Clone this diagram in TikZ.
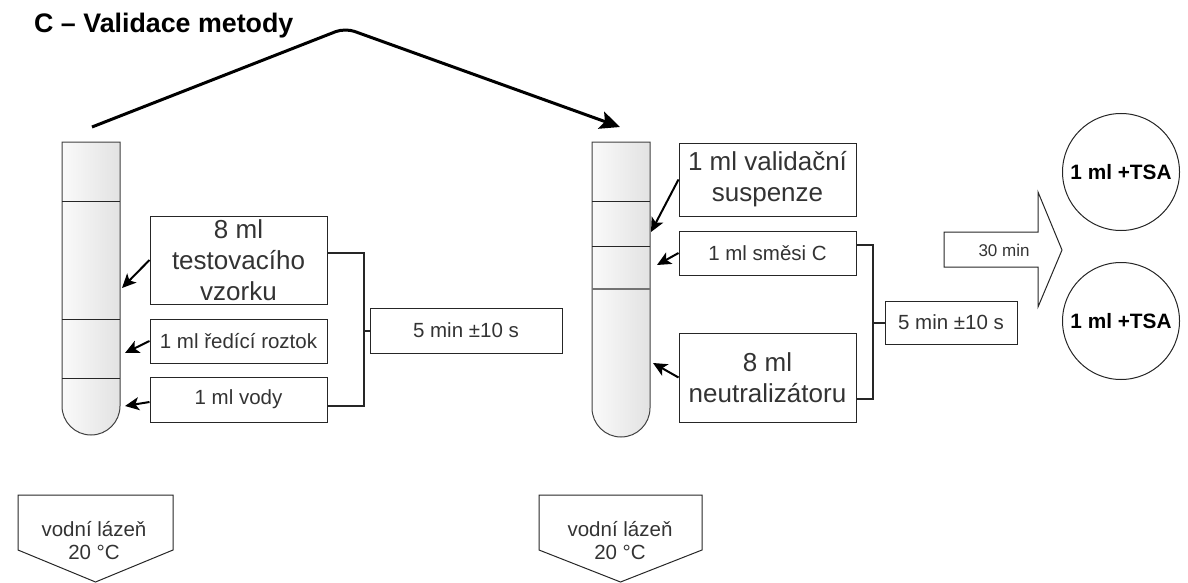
\documentclass[tikz,border=0pt]{standalone}
\usepackage{fontspec}
\setmainfont{Liberation Sans}
\usetikzlibrary{arrows.meta}

\definecolor{inkgray}{HTML}{333333}
\definecolor{tubelight}{HTML}{FAFAFA}
\definecolor{tubedark}{HTML}{E2E2E2}

\begin{document}
\begin{tikzpicture}[x=1pt, y=1pt, node distance=60pt,
    box/.style={draw=black!85, line width=1pt, fill=white, text=inkgray, align=center, inner sep=2pt},
    big/.style={box, minimum width=177pt, font=\fontsize{26}{31}\selectfont},
    small/.style={box, font=\fontsize{20.5}{24}\selectfont},
    dish/.style={draw=black!85, line width=1pt, circle, minimum size=117pt, inner sep=1pt, font=\bfseries\fontsize{20.8}{24}\selectfont},
    bath/.style={align=center, text=inkgray, font=\fontsize{20.5}{23}\selectfont},
    tube/.style={draw=black!75, line width=1pt, left color=tubelight, right color=tubedark},
    level/.style={draw=black!85, line width=1pt},
    feed/.style={-{Stealth[length=14pt,width=13pt,inset=3.5pt]}, line width=2pt},
    bracket/.style={draw=black!85, line width=2pt},
    outline/.style={draw=black!85, line width=1pt, line join=miter}]
    \useasboundingbox (0,0) rectangle (1188,-583);

    \node[anchor=base west, inner sep=0, font=\bfseries\fontsize{26.8}{32}\selectfont] (0) at (34,-33) {C – Validace metody};

    % first tube
    \draw[tube] (62,-142) -- (62,-406) arc[start angle=180, end angle=360, radius=29] -- (120,-142) -- cycle;
    \draw[level] (62,-201) -- (120,-201);
    \draw[level] (62,-319) -- (120,-319);
    \draw[level] (62,-378) -- (120,-378);

    % second tube
    \draw[tube] (592,-142) -- (592,-408) arc[start angle=180, end angle=360, radius=29] -- (650,-142) -- cycle;
    \draw[level] (592,-201) -- (650,-201);
    \draw[level] (592,-246) -- (650,-246);
    \draw[level, draw=black!55, line width=1.6pt] (592,-289) -- (650,-289);

    \coordinate (a1) at (122,-288);
    \coordinate (a2) at (125,-353);
    \coordinate (a3) at (125,-406);
    \coordinate (b1) at (651,-232);
    \coordinate (b2) at (657,-265);
    \coordinate (b3) at (653,-363);

    \node[big, minimum height=88pt] (2) at (238.5,-260) {8 ml\\testovacího\\vzorku};
    \node[small, minimum width=177pt, minimum height=44pt] (3) [below of=2, yshift=-21pt] {1 ml ředící roztok};
    \node[small, minimum width=177pt, minimum height=45pt] (4) [below of=3, yshift=1.5pt] {1 ml vody};
    \node[small, minimum width=192pt, minimum height=45pt] (5) [right of=3, xshift=167.5pt, yshift=10.5pt] {5 min ±10 s};

    \node[big, minimum height=73pt] (7) at (767.5,-179.5) {1 ml validační\\suspenze};
    \node[small, minimum width=177pt, minimum height=44pt] (8) [below of=7, yshift=-13.5pt] {1 ml směsi C};
    \node[big, minimum height=89pt] (9) [below of=8, yshift=-64.5pt] {8 ml\\neutralizátoru};
    \node[small, minimum width=132pt, minimum height=43pt] (10) [right of=9, xshift=123.5pt, yshift=55pt] {5 min ±10 s};

    % incubation arrow
    \draw[outline] (944,-232) -- (1038,-232) -- (1038,-192) -- (1062,-250) -- (1038,-307) -- (1038,-267) -- (944,-267) -- cycle;
    \node[text=inkgray, font=\fontsize{17}{20}\selectfont] (11) at (1004,-250) {30 min};

    \node[dish] (12) at (1121,-172) {1 ml +TSA};
    \node[dish] (13) [below of=12, yshift=-89pt] {1 ml +TSA};

    % water baths
    \draw[outline] (18,-495) -- (173,-495) -- (173,-550) -- (95.5,-582) -- (18,-550) -- cycle;
    \draw[outline] (539,-495) -- (702,-495) -- (702,-550) -- (620.5,-582) -- (539,-550) -- cycle;
    \node[bath] (14) at (94,-541) {vodní lázeň\\20 °C};
    \node[bath] (15) [right of=14, xshift=466pt] {vodní lázeň\\20 °C};

    \draw[feed] (2.west) -- (a1);
    \draw[feed] (3.west) -- (a2);
    \draw[feed] ([yshift=-2.5pt]4.west) -- (a3);
    \draw[feed] (7.west) -- (b1);
    \draw[feed] (8.west) -- (b2);
    \draw[feed] (9.west) -- (b3);

    \draw[bracket] ([yshift=7pt]2.east) -- ++(36,0) |- ([yshift=-6.5pt]4.east);
    \draw[bracket] (5.west) -- ++(-7,0);
    \draw[bracket] ([yshift=8pt]8.east) -- ++(16,0) |- ([yshift=-21.5pt]9.east);
    \draw[bracket] (10.west) -- ++(-13,0);

    \coordinate (s) at (92,-127);
    \coordinate (p) at (345,-28);
    \coordinate (e) at (620,-127);
    \draw[-{Stealth[length=20pt,width=18pt,inset=4pt]}, line width=3pt, rounded corners=10pt] (s) -- (p) -- (e);
\end{tikzpicture}
\end{document}
